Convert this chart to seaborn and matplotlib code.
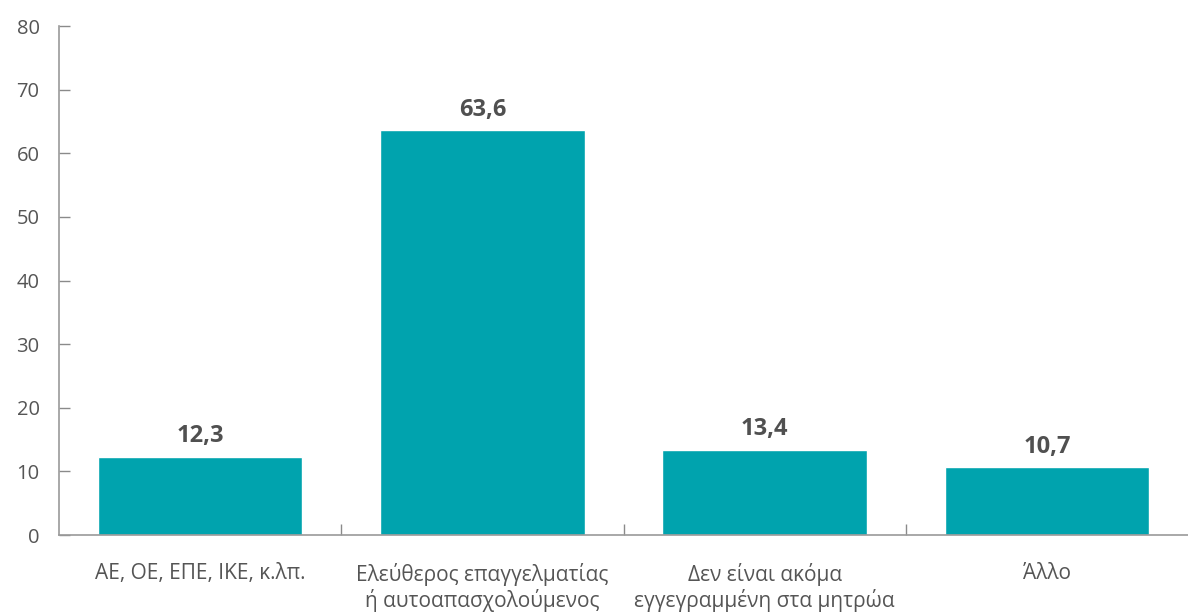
import pandas as pd
import seaborn as sns
from matplotlib import pyplot as plt
from matplotlib.ticker import FixedLocator

# data
categories = ["ΑΕ, ΟΕ, ΕΠΕ, ΙΚΕ, κ.λπ.",
              "Ελεύθερος επαγγελματίας\nή αυτοαπασχολούμενος",
              "Δεν είναι ακόμα\nεγγεγραμμένη στα μητρώα",
              "Άλλο"]
values = [12.3, 63.6, 13.4, 10.7]
labels = ["12,3", "63,6", "13,4", "10,7"]

df = pd.DataFrame({"cat": categories, "val": values})

sns.set_style("white")
plt.rcParams["font.family"] = ["Open Sans", "DejaVu Sans"]

fig = plt.figure(figsize=(11.88, 6.12), dpi=100)
ax = fig.add_axes([0.0497, 0.1258, 0.9503, 0.8317])

sns.barplot(data=df, x="cat", y="val", color="#00A3AE", saturation=1,
            width=0.725, ax=ax)

for i, (v, t) in enumerate(zip(values, labels)):
    ax.annotate(t, (i, v), xytext=(0, 6), textcoords="offset points",
                ha="center", va="bottom", fontsize=17, fontweight="bold",
                color="#505050")

ax.set_xlim(-0.5, 3.5)
ax.set_ylim(0, 80)
ax.set_yticks(range(0, 81, 10))
ax.set_xlabel("")
ax.set_ylabel("")

for s in ["top", "right"]:
    ax.spines[s].set_visible(False)
for s in ["left", "bottom"]:
    ax.spines[s].set_color("#9a9a9a")
    ax.spines[s].set_linewidth(1.2)

ax.tick_params(axis="y", direction="in", length=8, width=1, color="#8a8a8a",
               labelsize=14.5, labelcolor="#555555", pad=14, left=True)
ax.tick_params(axis="x", which="major", length=0, pad=20,
               labelsize=15, labelcolor="#555555")
ax.xaxis.set_minor_locator(FixedLocator([0.5, 1.5, 2.5]))
ax.tick_params(axis="x", which="minor", direction="in", length=8, width=1,
               color="#8a8a8a", bottom=True)
for lbl in ax.get_xticklabels():
    lbl.set_linespacing(1.2)

fig.savefig("out.png", dpi=100)
